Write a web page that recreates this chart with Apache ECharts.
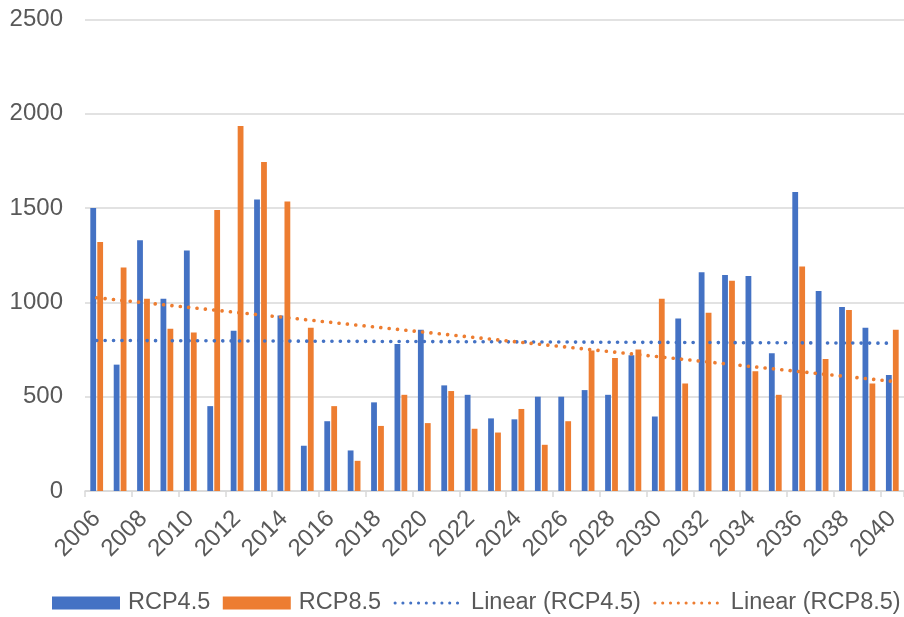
<!DOCTYPE html>
<html>
<head>
<meta charset="utf-8">
<script src="https://cdn.jsdelivr.net/npm/echarts@6/dist/echarts.min.js"></script>
<style>
  html, body { margin: 0; padding: 0; background: #fff; }
  #chart { width: 904px; height: 617px; }
</style>
</head>
<body>
<div id="chart"></div>
<script>
// Years on the category axis
const years = [
  '2006','2007','2008','2009','2010','2011','2012','2013','2014','2015',
  '2016','2017','2018','2019','2020','2021','2022','2023','2024','2025',
  '2026','2027','2028','2029','2030','2031','2032','2033','2034','2035',
  '2036','2037','2038','2039','2040'
];

// Annual values per scenario
const rcp45 = [
  1500, 670, 1330, 1020, 1275, 450, 850, 1545, 930, 240,
  370, 215, 470, 780, 855, 560, 510, 385, 380, 500,
  500, 535, 510, 720, 395, 915, 1160, 1145, 1140, 730,
  1585, 1060, 975, 865, 615
];
const rcp85 = [
  1320, 1185, 1020, 860, 840, 1490, 1935, 1745, 1535, 865,
  450, 160, 345, 510, 360, 530, 330, 310, 435, 245,
  370, 745, 705, 750, 1020, 570, 945, 1115, 635, 510,
  1190, 700, 960, 570, 855
];

// Value axis ticks
const yTicks = [0, 500, 1000, 1500, 2000, 2500];

// Least-squares linear trend over the category index
function linearTrend(values) {
  const n = values.length;
  let sx = 0, sy = 0, sxx = 0, sxy = 0;
  values.forEach((v, i) => { sx += i; sy += v; sxx += i * i; sxy += i * v; });
  const slope = (n * sxy - sx * sy) / (n * sxx - sx * sx);
  const intercept = (sy - slope * sx) / n;
  return values.map((_, i) => +(intercept + slope * i).toFixed(2));
}

const BLUE = '#4472C4';
const ORANGE = '#ED7D31';
const TEXT = '#595959';
const GRID = '#D9D9D9';
const FONT = 'Liberation Sans, Arial, sans-serif';
const FS = 24;
const LEGEND_FS = 23.5;

const dotted = [0.1, 8.3];
const legendDotted = [0.1, 7.7];

const chart = echarts.init(document.getElementById('chart'), null, { renderer: 'canvas' });

chart.setOption({
  animation: false,
  backgroundColor: '#ffffff',
  textStyle: { fontFamily: FONT },
  grid: { left: 85, top: 19.5, width: 826.6, height: 471.5, containLabel: false },
  legend: {
    left: 52,
    top: 591,
    width: 900,
    padding: 0,
    itemWidth: 68,
    itemHeight: 13,
    itemGap: 12.5,
    textStyle: { fontSize: LEGEND_FS, color: TEXT, fontFamily: FONT, padding: [0, 0, 0, 3] },
    data: [
      { name: 'RCP4.5', icon: 'rect' },
      { name: 'RCP8.5', icon: 'rect' },
      {
        name: 'Linear (RCP4.5)',
        itemStyle: { opacity: 0 },
        lineStyle: { color: BLUE, width: 3, type: legendDotted, cap: 'round' }
      },
      {
        name: 'Linear (RCP8.5)',
        itemStyle: { opacity: 0 },
        lineStyle: { color: ORANGE, width: 3, type: legendDotted, cap: 'round' }
      }
    ]
  },
  xAxis: {
    type: 'category',
    data: years,
    boundaryGap: true,
    axisLine: { lineStyle: { color: GRID, width: 1.5 } },
    axisTick: { show: true, interval: 1, length: 6, lineStyle: { color: GRID, width: 1.5 } },
    axisLabel: {
      interval: 1,
      rotate: 45,
      margin: 24,
      fontSize: FS,
      color: TEXT,
      fontFamily: FONT,
      hideOverlap: false
    },
    splitLine: { show: false }
  },
  yAxis: {
    type: 'value',
    min: yTicks[0],
    max: yTicks[yTicks.length - 1],
    interval: yTicks[1] - yTicks[0],
    axisLine: { show: false },
    axisTick: { show: false },
    axisLabel: {
      margin: 22,
      fontSize: FS,
      color: TEXT,
      fontFamily: FONT,
      formatter: (v) => String(v)
    },
    splitLine: { lineStyle: { color: GRID, width: 1.5 } }
  },
  series: [
    {
      name: 'RCP4.5',
      type: 'bar',
      data: rcp45,
      barWidth: 5.8,
      barGap: '20%',
      itemStyle: { color: BLUE }
    },
    {
      name: 'RCP8.5',
      type: 'bar',
      data: rcp85,
      barWidth: 5.8,
      barGap: '20%',
      itemStyle: { color: ORANGE }
    },
    {
      name: 'Linear (RCP4.5)',
      type: 'line',
      data: linearTrend(rcp45),
      symbol: 'none',
      showSymbol: false,
      itemStyle: { color: BLUE },
      lineStyle: { color: BLUE, width: 3.6, type: dotted, cap: 'round' },
      z: 5
    },
    {
      name: 'Linear (RCP8.5)',
      type: 'line',
      data: linearTrend(rcp85),
      symbol: 'none',
      showSymbol: false,
      itemStyle: { color: ORANGE },
      lineStyle: { color: ORANGE, width: 3.6, type: dotted, cap: 'round' },
      z: 5
    }
  ]
});
</script>
</body>
</html>
